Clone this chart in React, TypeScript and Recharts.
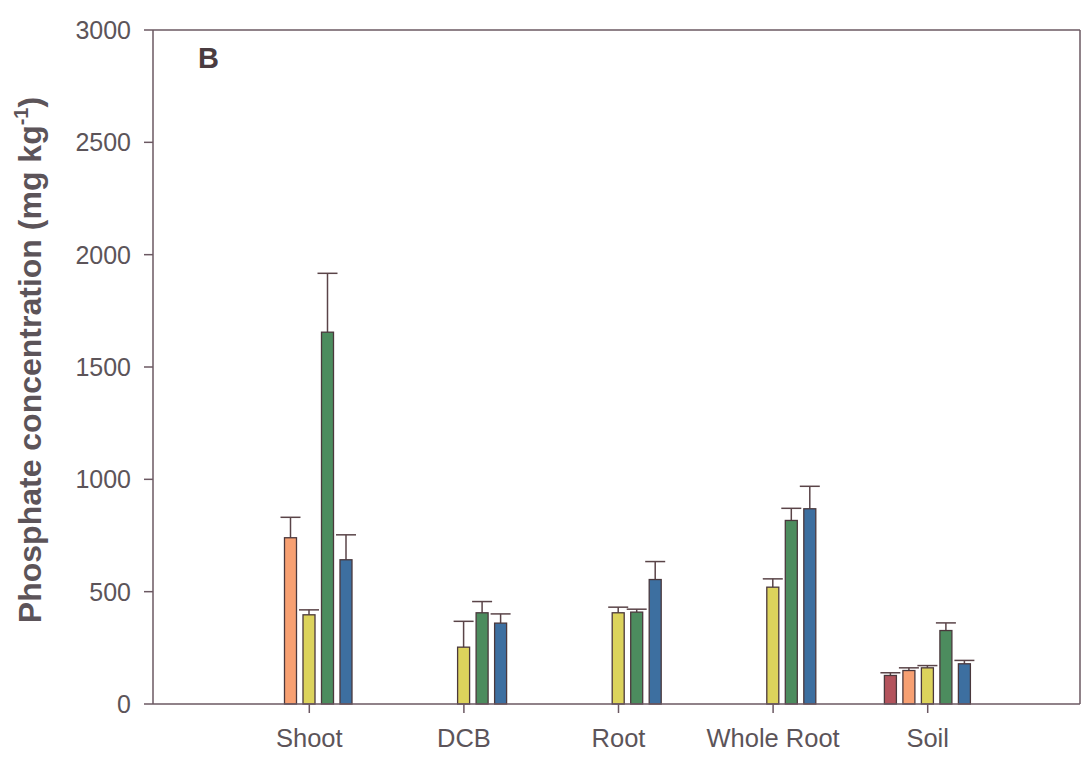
import { Bar, BarChart, XAxis, YAxis } from "recharts";

const tissues = ["Shoot", "DCB", "Root", "Whole Root", "Soil"];
const yTicks = [0, 500, 1000, 1500, 2000, 2500, 3000];

// mean phosphate per treatment, null where not measured
const series1 = [null, null, null, null, 127];
const series2 = [740, null, null, null, 149];
const series3 = [397, 253, 406, 520, 161];
const series4 = [1655, 406, 409, 817, 327];
const series5 = [642, 360, 554, 869, 179];

// upper error (SE)
const err1 = [null, null, null, null, 12];
const err2 = [91, null, null, null, 12];
const err3 = [22, 115, 25, 37, 10];
const err4 = [262, 50, 13, 54, 34];
const err5 = [111, 41, 80, 100, 15];

const colors = ["#b3535c", "#f7a072", "#dcd35c", "#4c8c5e", "#3d6fa0"];

const data = tissues.map((tissue, i) => ({
  tissue,
  s1: series1[i],
  s2: series2[i],
  s3: series3[i],
  s4: series4[i],
  s5: series5[i],
  e1: err1[i],
  e2: err2[i],
  e3: err3[i],
  e4: err4[i],
  e5: err5[i],
}));

const W = 1081;
const H = 764;
const margin = { top: 30, right: 1, bottom: 0, left: 0 };
const yAxisWidth = 153;
const xAxisHeight = 60;

const axisColor = "#6b5862";
const textColor = "#5c5459";
const font = "'Liberation Sans', Arial, Helvetica, sans-serif";

const makeShape = (valueKey: string, errKey: string) => (props: any) => {
  const { x, y, width, height, fill, payload } = props;
  const value = payload?.[valueKey];
  if (value == null || !height) return null;
  const err = payload[errKey] ?? 0;
  const pxPerUnit = height / value;
  const cx = x + width / 2;
  const top = y - err * pxPerUnit;
  return (
    <g>
      <line x1={cx} y1={y} x2={cx} y2={top} stroke="#5a4448" strokeWidth={1.5} />
      <line x1={cx - 10} y1={top} x2={cx + 10} y2={top} stroke="#5a4448" strokeWidth={1.5} />
      <rect x={x} y={y} width={width} height={height} fill={fill} stroke="#4a383c" strokeWidth={1.3} />
    </g>
  );
};

// y-axis title, panel letter and the top/right frame lines
const Decorations = () => {
  const left = margin.left + yAxisWidth;
  const right = W - margin.right;
  const top = margin.top;
  const bottom = H - margin.bottom - xAxisHeight;
  return (
    <g>
      <line x1={left} y1={top} x2={right} y2={top} stroke={axisColor} strokeWidth={1.5} />
      <line x1={right} y1={top} x2={right} y2={bottom} stroke={axisColor} strokeWidth={1.5} />
      <text x={198} y={68} fontSize={29} fontWeight="bold" fill="#4a3c40" fontFamily={font}>
        B
      </text>
      <text
        transform="translate(41,360) rotate(-90)"
        textAnchor="middle"
        fontSize={32}
        fontWeight="bold"
        fill={textColor}
        fontFamily={font}
      >
        Phosphate concentration (mg kg
        <tspan fontSize={20} dy={-13}>-1</tspan>
        <tspan dy={13}>)</tspan>
      </text>
    </g>
  );
};

export default function App() {
  const keys = ["s1", "s2", "s3", "s4", "s5"];
  return (
    <div style={{ position: "absolute", left: 0, top: 0, width: W, height: H, background: "#fff" }}>
      <BarChart width={W} height={H} data={data} margin={margin} barSize={12} barGap={6.5}>
        <XAxis
          dataKey="tissue"
          padding={{ left: 79, right: 75 }}
          height={xAxisHeight}
          tickSize={9}
          tickMargin={16}
          stroke={axisColor}
          strokeWidth={1.5}
          tick={{ fill: textColor, fontSize: 25.5, fontFamily: font }}
        />
        <YAxis
          domain={[0, 3000]}
          ticks={yTicks}
          width={yAxisWidth}
          tickSize={9}
          tickMargin={13}
          stroke={axisColor}
          strokeWidth={1.5}
          tick={{ fill: textColor, fontSize: 25, fontFamily: font }}
          label={{ content: <Decorations /> }}
        />
        {keys.map((k, i) => (
          <Bar
            key={k}
            dataKey={k}
            fill={colors[i]}
            isAnimationActive={false}
            shape={makeShape(k, "e" + (i + 1))}
          />
        ))}
      </BarChart>
    </div>
  );
}
